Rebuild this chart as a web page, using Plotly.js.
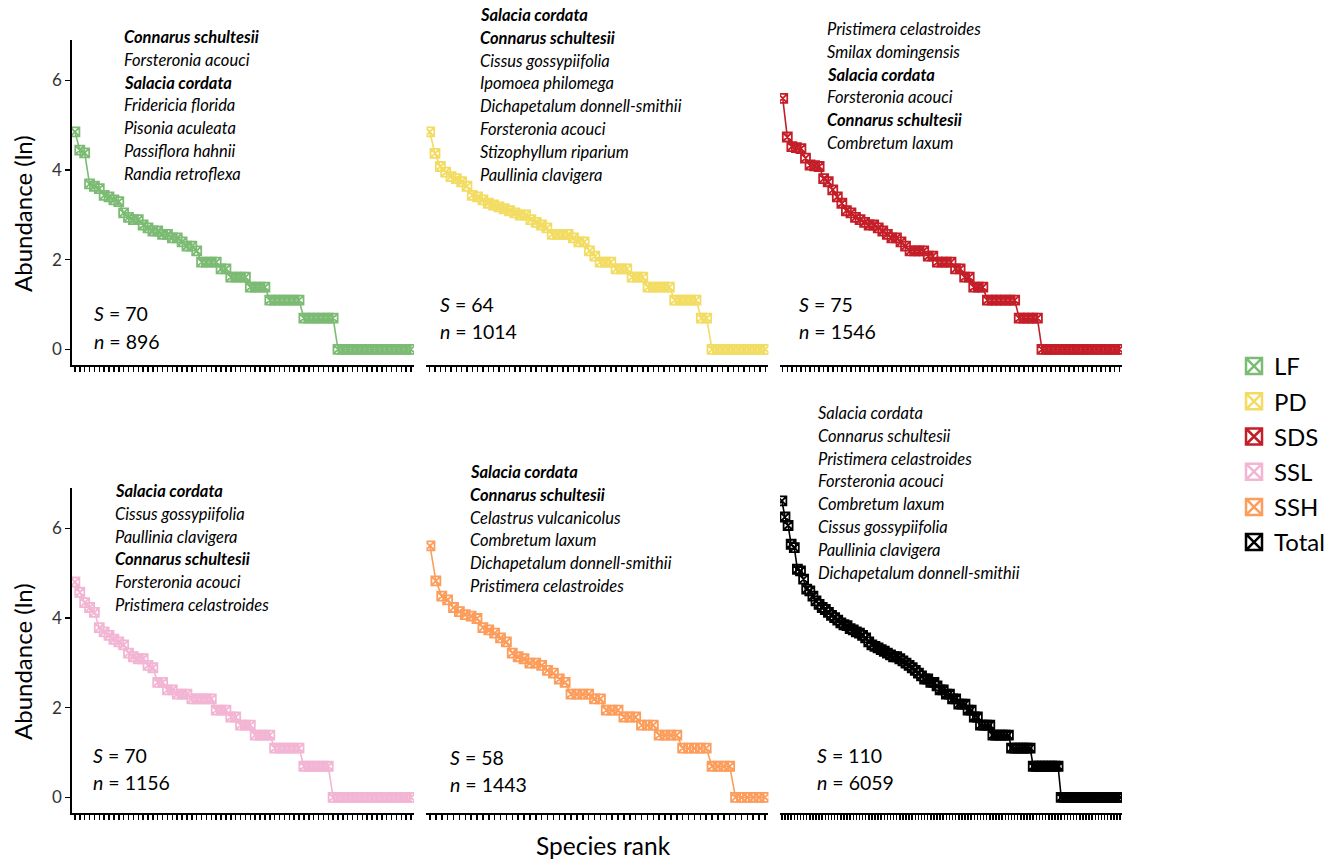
<!DOCTYPE html>
<html><head><meta charset="utf-8">
<script src="https://cdn.plot.ly/plotly-3.0.1.min.js"></script>
<style>html,body{margin:0;padding:0;background:#fff;}#chart{width:1342px;height:860px;}</style>
</head><body><div id="chart"></div>
<script>
// ---------- data ----------
const habitats = ['LF', 'PD', 'SDS', 'SSL', 'SSH', 'Total'];
const colors = ['#7cbb74', '#f2dc62', '#c41e28', '#f2b5d4', '#fc9d5c', '#000000'];

const countsLF = [128, 85, 80, 40, 38, 36, 31, 30, 28, 27,
  21, 19, 18, 18, 16, 15, 14, 14, 13, 13,
  12, 12, 11, 10, 10, 9, 7, 7, 7, 7,
  6, 6, 5, 5, 5, 5, 4, 4, 4, 4,
  3, 3, 3, 3, 3, 3, 3, 2, 2, 2,
  2, 2, 2, 2, 1, 1, 1, 1, 1, 1,
  1, 1, 1, 1, 1, 1, 1, 1, 1, 1];
const countsPD = [128, 79, 59, 52, 47, 45, 42, 38, 31, 30,
  28, 26, 25, 24, 23, 22, 21, 20, 20, 18,
  17, 16, 15, 13, 13, 13, 13, 12, 11, 11,
  9, 8, 7, 7, 7, 6, 6, 6, 5, 5,
  5, 4, 4, 4, 4, 4, 3, 3, 3, 3,
  3, 2, 2, 1, 1, 1, 1, 1, 1, 1,
  1, 1, 1, 1];
const countsSDS = [270, 114, 92, 90, 88, 71, 61, 60, 59, 45,
  42, 35, 30, 26, 22, 21, 19, 18, 17, 16,
  16, 15, 14, 13, 12, 12, 11, 10, 9, 9,
  9, 9, 8, 8, 7, 7, 7, 7, 6, 6,
  5, 5, 4, 4, 4, 3, 3, 3, 3, 3,
  3, 3, 2, 2, 2, 2, 2, 1, 1, 1,
  1, 1, 1, 1, 1, 1, 1, 1, 1, 1,
  1, 1, 1, 1, 1];
const countsSSL = [122, 97, 77, 69, 62, 44, 40, 37, 34, 32,
  30, 25, 23, 22, 22, 19, 18, 13, 13, 11,
  11, 10, 10, 10, 9, 9, 9, 9, 9, 7,
  7, 7, 6, 6, 5, 5, 5, 4, 4, 4,
  4, 3, 3, 3, 3, 3, 3, 2, 2, 2,
  2, 2, 2, 1, 1, 1, 1, 1, 1, 1,
  1, 1, 1, 1, 1, 1, 1, 1, 1, 1];
const countsSSH = [273, 125, 89, 82, 69, 63, 59, 57, 54, 44,
  42, 39, 35, 32, 25, 23, 22, 20, 20, 19,
  17, 16, 14, 13, 10, 10, 10, 10, 9, 9,
  7, 7, 7, 6, 6, 6, 5, 5, 5, 4,
  4, 4, 4, 3, 3, 3, 3, 3, 2, 2,
  2, 2, 1, 1, 1, 1, 1, 1];
const countsTotal = [744, 520, 430, 283, 263, 162, 156, 130, 104, 100,
  89, 80, 74, 69, 66, 62, 58, 55, 52, 49,
  47, 46, 43, 42, 40, 39, 37, 35, 32, 30,
  29, 28, 27, 26, 25, 24, 23, 23, 22, 21,
  20, 19, 18, 17, 16, 15, 14, 14, 13, 13,
  12, 11, 11, 10, 10, 9, 9, 8, 8, 8,
  7, 7, 6, 6, 5, 5, 5, 5, 4, 4,
  4, 4, 4, 4, 3, 3, 3, 3, 3, 3,
  3, 2, 2, 2, 2, 2, 2, 2, 2, 2,
  1, 1, 1, 1, 1, 1, 1, 1, 1, 1,
  1, 1, 1, 1, 1, 1, 1, 1, 1, 1];

const richness = [70, 64, 75, 70, 58, 110];
const individuals = [896, 1014, 1546, 1156, 1443, 6059];

const topLF = ['Connarus schultesii', 'Forsteronia acouci', 'Salacia cordata', 'Fridericia florida', 'Pisonia aculeata', 'Passiflora hahnii', 'Randia retroflexa'];
const topPD = ['Salacia cordata', 'Connarus schultesii', 'Cissus gossypiifolia', 'Ipomoea philomega', 'Dichapetalum donnell-smithii', 'Forsteronia acouci', 'Stizophyllum riparium', 'Paullinia clavigera'];
const topSDS = ['Pristimera celastroides', 'Smilax domingensis', 'Salacia cordata', 'Forsteronia acouci', 'Connarus schultesii', 'Combretum laxum'];
const topSSL = ['Salacia cordata', 'Cissus gossypiifolia', 'Paullinia clavigera', 'Connarus schultesii', 'Forsteronia acouci', 'Pristimera celastroides'];
const topSSH = ['Salacia cordata', 'Connarus schultesii', 'Celastrus vulcanicolus', 'Combretum laxum', 'Dichapetalum donnell-smithii', 'Pristimera celastroides'];
const topTotal = ['Salacia cordata', 'Connarus schultesii', 'Pristimera celastroides', 'Forsteronia acouci', 'Combretum laxum', 'Cissus gossypiifolia', 'Paullinia clavigera', 'Dichapetalum donnell-smithii'];
const boldSpecies = ['Connarus schultesii', 'Salacia cordata'];

// ---------- layout helpers ----------
const allCounts = [countsLF, countsPD, countsSDS, countsSSL, countsSSH, countsTotal];
const allTop = [topLF, topPD, topSDS, topSSL, topSSH, topTotal];
const FONT = 'Lato, "Open Sans", sans-serif';
const W = 1342, H = 860, ML = 72, MR = 220, MT = 40, MB = 47;
const PW = W - ML - MR, PH = H - MT - MB;
const px = v => (v - ML) / PW;
const py = v => (H - MB - v) / PH;

const colDom = [[0, 0.3257], [0.3376, 0.6633], [0.6743, 1]];
const rowDom = [[0.5796, 1], [0, 0.4204]];

const namesX = [122, 478, 825, 113, 468, 816];
const namesTop = [37, 15, 29, 491, 472, 413];
const lineStep = 22.8;
const statsX = [92, 438, 797, 91, 448, 815];
const statsY = [314, 304, 304, 755, 757, 755];

const traces = [];
const layout = {
  width: W, height: H,
  margin: {l: ML, r: MR, t: MT, b: MB},
  paper_bgcolor: '#fff', plot_bgcolor: '#fff',
  font: {family: FONT, color: '#000'},
  showlegend: true,
  legend: {x: px(1234), xanchor: 'left', y: py(344), yanchor: 'top',
    font: {size: 24, family: FONT, color: '#000'}, tracegroupgap: 1, itemsizing: 'trace'},
  annotations: []
};

habitats.forEach((h, i) => {
  const sfx = i === 0 ? '' : String(i + 1);
  const col = i % 3, row = Math.floor(i / 3);
  const counts = allCounts[i];
  const ranks = counts.map((_, k) => k + 1);
  traces.push({
    x: ranks, y: counts.map(c => Math.log(c)),
    xaxis: 'x' + sfx, yaxis: 'y' + sfx,
    mode: 'lines+markers', showlegend: false, hoverinfo: 'skip',
    line: {color: colors[i], width: 1.6},
    marker: {symbol: 'square-x-open', size: 9, color: colors[i], line: {color: colors[i], width: 1.8}}
  });
  layout['xaxis' + sfx] = {
    domain: colDom[col], anchor: 'y' + sfx,
    range: [0.4, counts.length + 0.6],
    tickmode: 'array', tickvals: ranks, showticklabels: false,
    ticks: 'outside', ticklen: 5, tickwidth: 1.5, tickcolor: '#000',
    showline: true, linecolor: '#000', linewidth: 1.8,
    showgrid: false, zeroline: false, fixedrange: true
  };
  layout['yaxis' + sfx] = {
    domain: rowDom[row], anchor: 'x' + sfx,
    range: [-0.35, 6.9],
    tickmode: 'array', tickvals: [0, 2, 4, 6], ticktext: ['0', '2', '4', '6'],
    showticklabels: col === 0, ticks: col === 0 ? 'outside' : '',
    ticklen: 5, tickwidth: 1.5, tickcolor: '#000',
    tickfont: {size: 17, color: '#333', family: FONT},
    showline: col === 0, linecolor: '#000', linewidth: 1.8,
    showgrid: false, zeroline: false, fixedrange: true
  };
  // species names
  allTop[i].forEach((sp, k) => {
    const isBold = h !== 'Total' && boldSpecies.includes(sp);
    layout.annotations.push({
      xref: 'paper', yref: 'paper', x: px(namesX[i]), y: py(namesTop[i] + k * lineStep),
      xanchor: 'left', yanchor: 'middle', showarrow: false,
      text: isBold ? '<b><i>' + sp + '</i></b>' : '<i>' + sp + '</i>',
      font: {size: 16.5, family: FONT, color: '#000'}
    });
  });
  layout.annotations.push({
    xref: 'paper', yref: 'paper', x: px(statsX[i]), y: py(statsY[i]),
    xanchor: 'left', yanchor: 'middle', showarrow: false,
    text: '<i>S</i> = ' + richness[i], font: {size: 19.5, family: FONT, color: '#000'}
  });
  layout.annotations.push({
    xref: 'paper', yref: 'paper', x: px(statsX[i]), y: py(statsY[i] + 27.5),
    xanchor: 'left', yanchor: 'middle', showarrow: false,
    text: '<i>n</i> = ' + individuals[i], font: {size: 19.5, family: FONT, color: '#000'}
  });
  // legend entry
  traces.push({
    x: [null], y: [null], xaxis: 'x', yaxis: 'y', name: h, legendgroup: h,
    mode: 'markers', showlegend: true, hoverinfo: 'skip',
    marker: {symbol: 'square-x-open', size: 22, color: colors[i], line: {color: colors[i], width: 2.5}}
  });
});

// axis titles
[214, 662].forEach(cy => layout.annotations.push({
  xref: 'paper', yref: 'paper', x: px(22), y: py(cy), textangle: -90,
  xanchor: 'center', yanchor: 'middle', showarrow: false,
  text: 'Abundance (ln)', font: {size: 24, family: FONT, color: '#000'}
}));
layout.annotations.push({
  xref: 'paper', yref: 'paper', x: px(603), y: py(846),
  xanchor: 'center', yanchor: 'middle', showarrow: false,
  text: 'Species rank', font: {size: 24.5, family: FONT, color: '#000'}
});

Plotly.newPlot('chart', traces, layout, {displayModeBar: false, staticPlot: true});
</script></body></html>
